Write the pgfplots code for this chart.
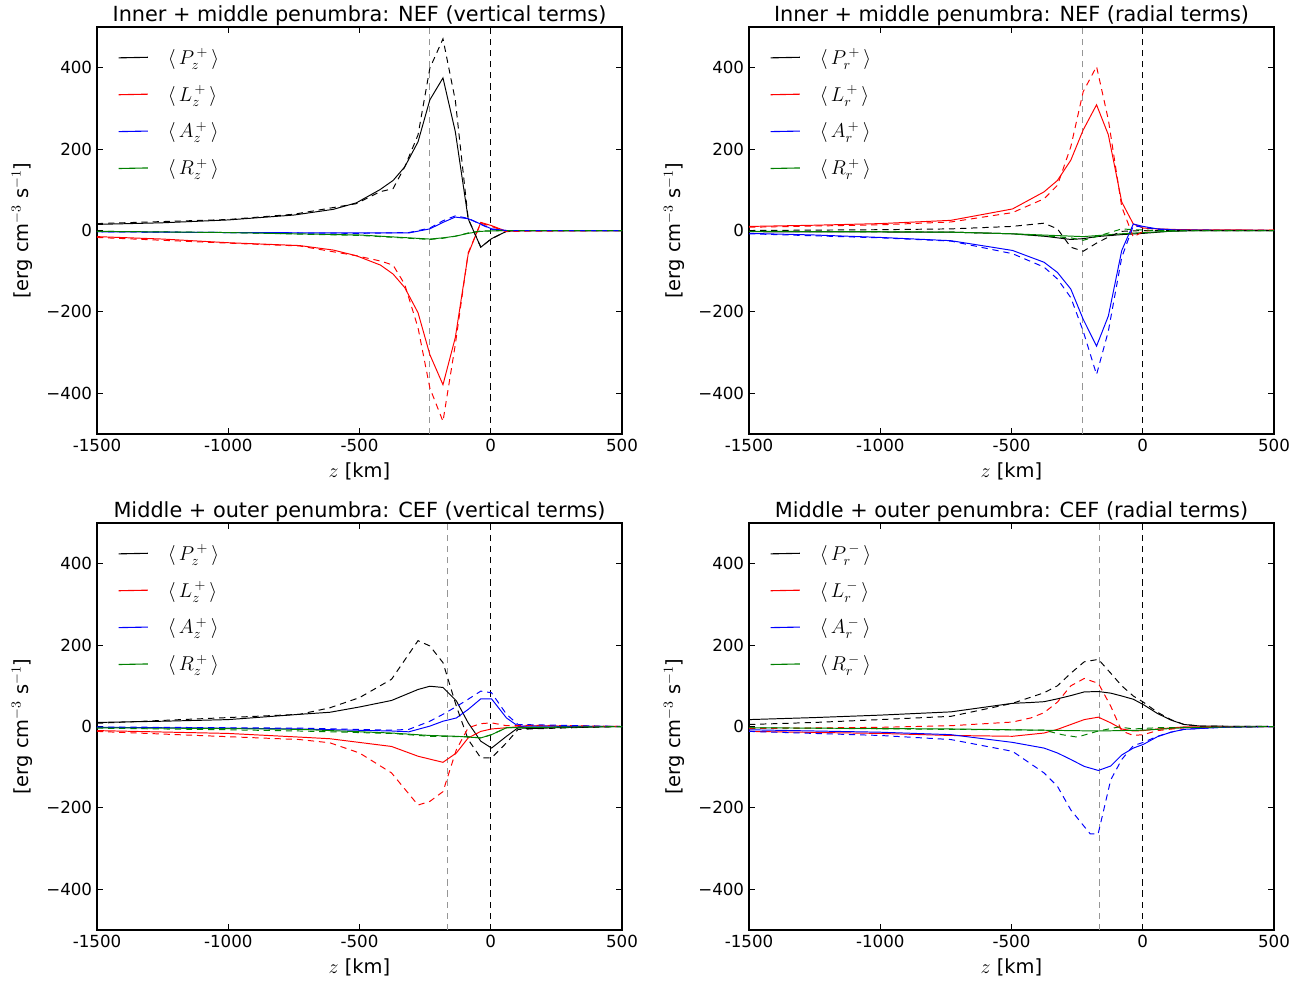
\documentclass[border=0pt]{standalone}
\usepackage{pgfplots}
\pgfplotsset{compat=1.18}
\usepackage{fontspec}
\setmainfont{DejaVu Sans}
\definecolor{mgreen}{RGB}{0,128,0}
\definecolor{mgray}{RGB}{150,150,150}
\definecolor{mred}{RGB}{255,0,0}
\definecolor{mblue}{RGB}{0,0,255}
\newcommand{\lgd}[3]{$\langle\, #1_{#2}^{\,#3}\,\rangle$}
\pgfplotsset{
  myax/.style={
    scale only axis, width=378pt, height=293pt, anchor=south west,
    xmin=-1500, xmax=500, ymin=-500, ymax=500,
    xtick={-1500,-1000,-500,0,500}, xticklabels={-1500,-1000,-500,0,500},
    ytick={-400,-200,0,200,400}, yticklabels={−400,−200,0,200,400},
    tick align=inside, major tick length=4pt, minor tick num=0,
    tick style={black, line width=0.6pt},
    axis line style={line width=0.8pt},
    tick label style={font=\fontsize{12}{14}\selectfont},
    label style={font=\fontsize{14}{16}\selectfont},
    title style={font=\fontsize{15}{17}\selectfont, at={(axis description cs:0.5,1)}, anchor=base, yshift=-2pt},
    xlabel={$z$ [km]}, ylabel={[erg cm$^{-3}$ s$^{-1}$]},
    xlabel style={at={(axis description cs:0.5,0)}, anchor=center, yshift=-27pt},
    ylabel style={at={(axis description cs:-0.143,0.5)}, anchor=center},
    every axis plot/.append style={line width=0.7pt},
    legend style={draw=none, fill=none, at={(axis description cs:0,1)}, anchor=north west,
      xshift=12pt, yshift=-11.5pt, row sep=10pt, column sep=12pt, font=\fontsize{14.5}{16}\selectfont},
    legend cell align=left,
    legend image code/.code={\draw[#1, line width=0.8pt] (0pt,-0.2pt) -- (21pt,0.2pt);},
  },
  dsh/.style={dash pattern=on 4.5pt off 3.5pt, forget plot},
  vl/.style={line width=0.7pt, dash pattern=on 4.5pt off 3.5pt, forget plot},
}
\begin{document}
\begin{tikzpicture}
\path[use as bounding box] (0,0) rectangle (946.08pt,708.48pt);
% ---------------- Panel 1 ----------------
\begin{axis}[myax, at={(69.84pt,396pt)}, title={Inner + middle penumbra: NEF (vertical terms)}]
\addplot[vl, mgray] coordinates {(-232,-500)(-232,500)};
\addplot[vl, black] coordinates {(0,-500)(0,500)};
\addplot[black] coordinates {(-1500,15)(-1250,19)(-1000,26)(-750,38)(-600,52)(-512,68)(-423,100)(-372,123)(-328,156)(-277,218)(-232,321)(-182,375)(-135,243)(-86,29)(-38,-41)(3,-20)(60,-2)(100,0)(500,0)};
\addlegendentry{\lgd{P}{z}{+}}
\addplot[mred] coordinates {(-1500,-15)(-1250,-21)(-1000,-30)(-728,-37)(-600,-48)(-512,-62)(-420,-85)(-372,-107)(-328,-140)(-277,-202)(-232,-305)(-182,-379)(-135,-263)(-86,-58)(-38,20)(3,12)(60,-2)(100,0)(500,0)};
\addlegendentry{\lgd{L}{z}{+}}
\addplot[mblue] coordinates {(-1500,-3)(-1000,-5)(-500,-6)(-312,-6)(-232,4)(-182,20)(-135,33)(-86,29)(-38,16)(3,4)(60,0)(500,0)};
\addlegendentry{\lgd{A}{z}{+}}
\addplot[mgreen] coordinates {(-1500,-2)(-1000,-5)(-500,-11)(-232,-21)(-182,-18)(-135,-14)(-86,-7)(-38,-2)(60,0)(500,0)};
\addlegendentry{\lgd{R}{z}{+}}
\addplot[dsh, black] coordinates {(-1500,17)(-1000,27)(-750,40)(-512,66)(-423,95)(-372,103)(-328,156)(-277,235)(-232,399)(-182,471)(-135,320)(-86,29)(-38,-41)(3,-20)(60,-2)(100,0)(500,0)};
\addplot[dsh, mred] coordinates {(-1500,-17)(-1000,-31)(-728,-38)(-512,-62)(-420,-75)(-372,-85)(-328,-132)(-277,-239)(-232,-387)(-182,-469)(-135,-280)(-86,-55)(-38,18)(3,10)(60,-3)(100,-2)(500,0)};
\addplot[dsh, mblue] coordinates {(-1500,-3)(-1000,-5)(-500,-7)(-312,-5)(-232,6)(-182,24)(-135,36)(-86,30)(-38,15)(3,3)(60,0)(500,0)};
\addplot[dsh, mgreen] coordinates {(-1500,-2)(-1000,-5)(-500,-12)(-232,-22)(-182,-19)(-135,-14)(-86,-6)(-38,-1)(60,0)(500,0)};
\end{axis}
% ---------------- Panel 2 ----------------
\begin{axis}[myax, at={(539.28pt,396pt)}, title={Inner + middle penumbra: NEF (radial terms)}]
\addplot[vl, mgray] coordinates {(-229,-500)(-229,500)};
\addplot[vl, black] coordinates {(0,-500)(0,500)};
\addplot[black] coordinates {(-1500,-3)(-731,-4)(-500,-8)(-376,-14)(-274,-22)(-227,-20)(-176,-15)(-80,-10)(2,-7)(100,-2)(200,0)(500,0)};
\addlegendentry{\lgd{P}{r}{+}}
\addplot[mred] coordinates {(-1500,10)(-1250,13)(-1000,17)(-731,25)(-496,53)(-376,95)(-325,123)(-274,173)(-227,247)(-176,309)(-131,235)(-80,70)(-36,16)(2,6)(56,4)(150,2)(500,1)};
\addlegendentry{\lgd{L}{r}{+}}
\addplot[mblue] coordinates {(-1500,-7)(-1250,-11)(-1000,-17)(-731,-25)(-496,-49)(-376,-78)(-325,-103)(-274,-144)(-227,-218)(-176,-284)(-131,-210)(-80,-49)(-36,16)(2,10)(56,4)(150,1)(500,0)};
\addlegendentry{\lgd{A}{r}{+}}
\addplot[mgreen] coordinates {(-1500,-2)(-1000,-3)(-731,-4)(-500,-8)(-227,-15)(-80,-8)(2,-5)(100,-2)(200,0)(500,0)};
\addlegendentry{\lgd{R}{r}{+}}
\addplot[dsh, black] coordinates {(-1500,0)(-1000,2)(-731,4)(-500,10)(-376,18)(-325,4)(-274,-41)(-227,-51)(-176,-31)(-131,-16)(-80,-2)(2,0)(500,0)};
\addplot[dsh, mred] coordinates {(-1500,8)(-1000,14)(-731,21)(-496,44)(-376,78)(-325,111)(-274,206)(-227,341)(-176,403)(-131,272)(-80,58)(-36,-16)(2,-2)(56,2)(150,1)(500,1)};
\addplot[dsh, mblue] coordinates {(-1500,-8)(-1000,-18)(-731,-26)(-496,-57)(-376,-90)(-325,-119)(-274,-165)(-227,-247)(-176,-354)(-131,-247)(-80,-66)(-36,12)(2,8)(56,3)(150,1)(500,0)};
\addplot[dsh, mgreen] coordinates {(-1500,-2)(-731,-4)(-500,-8)(-274,-18)(-227,-24)(-176,-15)(-80,4)(-36,2)(56,0)(500,0)};
\end{axis}
% ---------------- Panel 3 ----------------
\begin{axis}[myax, at={(69.84pt,38.88pt)}, title={Middle + outer penumbra: CEF (vertical terms)}]
\addplot[vl, mgray] coordinates {(-166,-500)(-166,500)};
\addplot[vl, black] coordinates {(0,-500)(0,500)};
\addplot[black] coordinates {(-1500,10)(-1250,13)(-1000,17)(-728,30)(-613,35)(-500,48)(-378,64)(-277,91)(-232,99)(-182,96)(-131,63)(-86,9)(-38,-36)(3,-53)(60,-24)(104,-3)(150,-5)(250,-3)(500,0)};
\addlegendentry{\lgd{P}{z}{+}}
\addplot[mred] coordinates {(-1500,-10)(-1000,-17)(-728,-26)(-613,-30)(-378,-49)(-277,-73)(-182,-88)(-131,-65)(-86,-28)(-38,-12)(3,-6)(60,-3)(150,2)(300,1)(500,0)};
\addlegendentry{\lgd{L}{z}{+}}
\addplot[mblue] coordinates {(-1500,-2)(-1000,-4)(-728,-6)(-378,-11)(-312,-13)(-232,1)(-182,13)(-131,21)(-86,42)(-38,68)(3,68)(60,21)(104,1)(500,0)};
\addlegendentry{\lgd{A}{z}{+}}
\addplot[mgreen] coordinates {(-1500,-3)(-1000,-5)(-728,-7)(-378,-16)(-232,-22)(-131,-24)(-38,-28)(3,-20)(60,-3)(500,0)};
\addlegendentry{\lgd{R}{z}{+}}
\addplot[dsh, black] coordinates {(-1500,8)(-1250,15)(-1000,22)(-728,30)(-613,46)(-500,71)(-378,116)(-277,211)(-232,198)(-182,157)(-131,50)(-86,-32)(-38,-77)(3,-77)(60,-40)(104,-7)(150,-6)(250,-4)(500,0)};
\addplot[dsh, mred] coordinates {(-1500,-12)(-1000,-25)(-728,-32)(-613,-40)(-500,-65)(-378,-114)(-277,-193)(-232,-184)(-182,-160)(-131,-57)(-86,-3)(-38,7)(3,9)(60,2)(150,3)(300,2)(500,0)};
\addplot[dsh, mblue] coordinates {(-1500,-1)(-1000,-3)(-728,-4)(-378,-9)(-312,-7)(-232,13)(-182,30)(-131,49)(-86,67)(-38,87)(3,83)(60,30)(104,5)(500,0)};
\addplot[dsh, mgreen] coordinates {(-1500,-4)(-1000,-8)(-728,-11)(-378,-17)(-232,-24)(-86,-25)(-38,-28)(3,-20)(60,-3)(500,0)};
\end{axis}
% ---------------- Panel 4 ----------------
\begin{axis}[myax, at={(539.28pt,38.88pt)}, title={Middle + outer penumbra: CEF (radial terms)}]
\addplot[vl, mgray] coordinates {(-164,-500)(-164,500)};
\addplot[vl, black] coordinates {(0,-500)(0,500)};
\addplot[black] coordinates {(-1500,17)(-1250,22)(-1000,28)(-731,36)(-496,57)(-427,59)(-376,61)(-325,68)(-274,76)(-223,85)(-169,86)(-122,82)(-80,75)(-36,67)(2,54)(56,32)(107,16)(157,5)(221,1)(500,0)};
\addlegendentry{\lgd{P}{r}{-}}
\addplot[mred] coordinates {(-1500,-12)(-1000,-17)(-731,-22)(-496,-24)(-376,-16)(-325,-7)(-274,5)(-223,17)(-169,23)(-122,9)(-80,-6)(-36,-11)(2,-10)(56,-6)(157,-1)(500,0)};
\addlegendentry{\lgd{L}{r}{-}}
\addplot[mblue] coordinates {(-1500,-8)(-1000,-14)(-731,-20)(-496,-39)(-376,-53)(-325,-65)(-274,-81)(-223,-98)(-169,-108)(-122,-97)(-80,-70)(-36,-53)(2,-44)(56,-25)(107,-14)(157,-7)(300,-2)(500,0)};
\addlegendentry{\lgd{A}{r}{-}}
\addplot[mgreen] coordinates {(-1500,-3)(-731,-6)(-500,-8)(-169,-11)(2,-9)(157,-3)(500,0)};
\addlegendentry{\lgd{R}{r}{-}}
\addplot[dsh, black] coordinates {(-1500,5)(-1250,10)(-1000,17)(-731,25)(-496,57)(-376,83)(-325,100)(-274,131)(-223,159)(-169,165)(-122,131)(-80,100)(-36,75)(2,60)(56,35)(107,17)(157,5)(221,1)(500,0)};
\addplot[dsh, mred] coordinates {(-1500,-5)(-1000,-2)(-731,2)(-496,11)(-427,21)(-376,34)(-325,60)(-274,100)(-223,118)(-169,106)(-122,50)(-80,-11)(-36,-22)(2,-20)(56,-10)(157,-3)(500,0)};
\addplot[dsh, mblue] coordinates {(-1500,-12)(-1000,-22)(-731,-32)(-496,-61)(-376,-114)(-325,-147)(-274,-205)(-200,-264)(-170,-264)(-122,-131)(-80,-81)(-36,-47)(2,-39)(56,-24)(107,-14)(157,-7)(300,-2)(500,0)};
\addplot[dsh, mgreen] coordinates {(-1500,-3)(-731,-7)(-376,-9)(-308,-20)(-250,-26)(-169,-11)(-90,-1)(-36,-6)(56,-3)(500,0)};
\end{axis}
\end{tikzpicture}
\end{document}
